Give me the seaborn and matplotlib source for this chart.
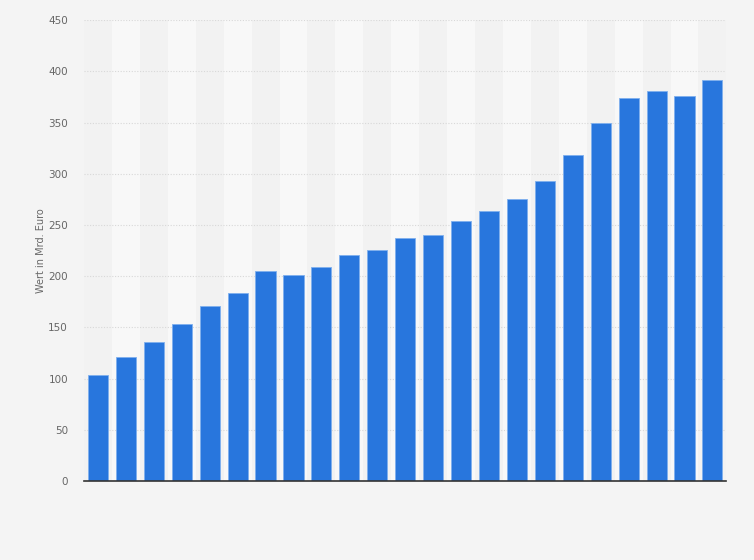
import numpy as np
import pandas as pd
import matplotlib
matplotlib.use("Agg")
import matplotlib.pyplot as plt
import seaborn as sns

# bar values (no category labels shown in the reference)
positions = list(range(1, 24))
werte = [104, 121, 135.5, 153, 170.5, 183.5, 205.5, 201, 208.5, 220.5, 226, 237,
         240, 253.5, 264, 275, 292.5, 318, 349.5, 374, 381, 376, 391.5]
y_ticks = [0, 50, 100, 150, 200, 250, 300, 350, 400, 450]

df = pd.DataFrame({"pos": positions, "wert": werte})

sns.set_style("white")
plt.rcParams['font.family'] = ['DejaVu Sans']

fig = plt.figure(figsize=(7.54, 5.6), dpi=100)
fig.patch.set_facecolor('#f4f4f4')
ax = fig.add_axes([0.1114, 0.141, 0.852, 0.823])
ax.set_facecolor('#f2f2f2')

# alternating column stripes
for i in range(len(positions)):
    if i % 2 == 1:
        ax.axvspan(i - 0.5, i + 0.5, color='#f8f8f8', zorder=0, lw=0)

sns.barplot(data=df, x="pos", y="wert", color='#2876dd', saturation=1,
            width=0.72, ax=ax, zorder=3, edgecolor='#7fb0ee', linewidth=0.6)

ax.set_ylim(0, 450)
ax.set_xlim(-0.5, len(positions) - 0.5)
ax.set_yticks(y_ticks)
ax.set_yticklabels([str(t) for t in y_ticks], color='#666666', fontsize=7.5)
ax.set_xticks([])
ax.set_xlabel('')
ax.set_ylabel('Wert in Mrd. Euro', color='#666666', fontsize=7, labelpad=1.5)
ax.tick_params(axis='y', length=0, pad=11.5)

for t in y_ticks[1:]:
    ax.axhline(t, color='#d8d8d8', lw=0.8, ls=(0, (1, 1.5)), zorder=1)

for s in ['top', 'right', 'left']:
    ax.spines[s].set_visible(False)
ax.spines['bottom'].set_color('#333333')
ax.spines['bottom'].set_linewidth(1.2)
ax.spines['bottom'].set_zorder(5)

fig.savefig('out.png', dpi=100, facecolor=fig.get_facecolor())
